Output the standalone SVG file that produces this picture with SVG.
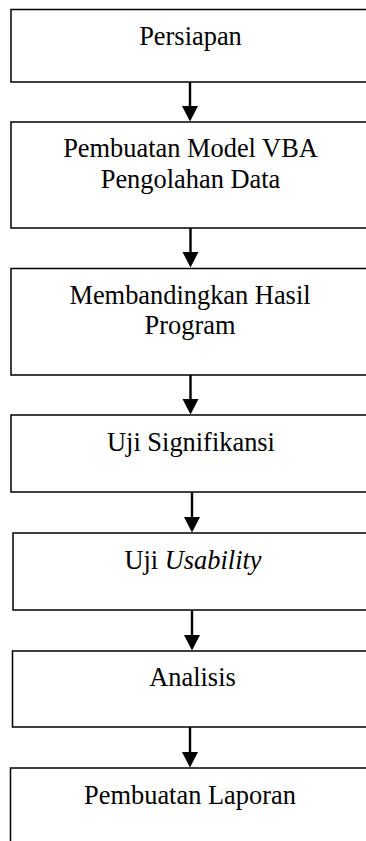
<svg xmlns="http://www.w3.org/2000/svg" width="366" height="841" viewBox="0 0 366 841">
<style>
.box{fill:#fff;stroke:#000;stroke-width:1.5}
.t{font-family:"Liberation Serif","Times New Roman",serif;font-size:26.4px;fill:#000;text-anchor:middle}
.c{stroke:#000;stroke-width:2.4;fill:none}
.h{fill:#000}
</style>
<rect width="366" height="841" fill="#fff"/>
<g id="n1"><rect class="box" x="11" y="9.5" width="380" height="72.5"/><text class="t" x="190.5" y="45">Persiapan</text></g>
<g id="n2"><rect class="box" x="11" y="122" width="380" height="106"/><text class="t" x="190.5" y="157">Pembuatan Model VBA</text><text class="t" x="190.5" y="187.5">Pengolahan Data</text></g>
<g id="n3"><rect class="box" x="11" y="268.5" width="380" height="106.5"/><text class="t" x="190" y="304">Membandingkan Hasil</text><text class="t" x="190" y="334">Program</text></g>
<g id="n4"><rect class="box" x="11" y="415" width="380" height="77"/><text class="t" x="191" y="451">Uji Signifikansi</text></g>
<g id="n5"><rect class="box" x="13" y="533" width="380" height="77"/><text class="t" x="193" y="568.5">Uji <tspan font-style="italic">Usability</tspan></text></g>
<g id="n6"><rect class="box" x="12.5" y="651" width="380" height="76"/><text class="t" x="192.5" y="686">Analisis</text></g>
<g id="n7"><rect class="box" x="10.5" y="768" width="380" height="100"/><text class="t" x="190" y="804">Pembuatan Laporan</text></g>
<g id="connectors">
<line class="c" x1="190" y1="82" x2="190" y2="107"/><polygon class="h" points="182,106 198,106 190,121.5"/>
<line class="c" x1="190.5" y1="228" x2="190.5" y2="253"/><polygon class="h" points="182.5,252 198.5,252 190.5,267.5"/>
<line class="c" x1="190.5" y1="375" x2="190.5" y2="400"/><polygon class="h" points="182.5,399 198.5,399 190.5,414.5"/>
<line class="c" x1="192" y1="492" x2="192" y2="518"/><polygon class="h" points="184,517 200,517 192,532.5"/>
<line class="c" x1="192" y1="610" x2="192" y2="636"/><polygon class="h" points="184,635 200,635 192,650.5"/>
<line class="c" x1="190" y1="727" x2="190" y2="753"/><polygon class="h" points="182,752 198,752 190,767.5"/>
</g>
</svg>
